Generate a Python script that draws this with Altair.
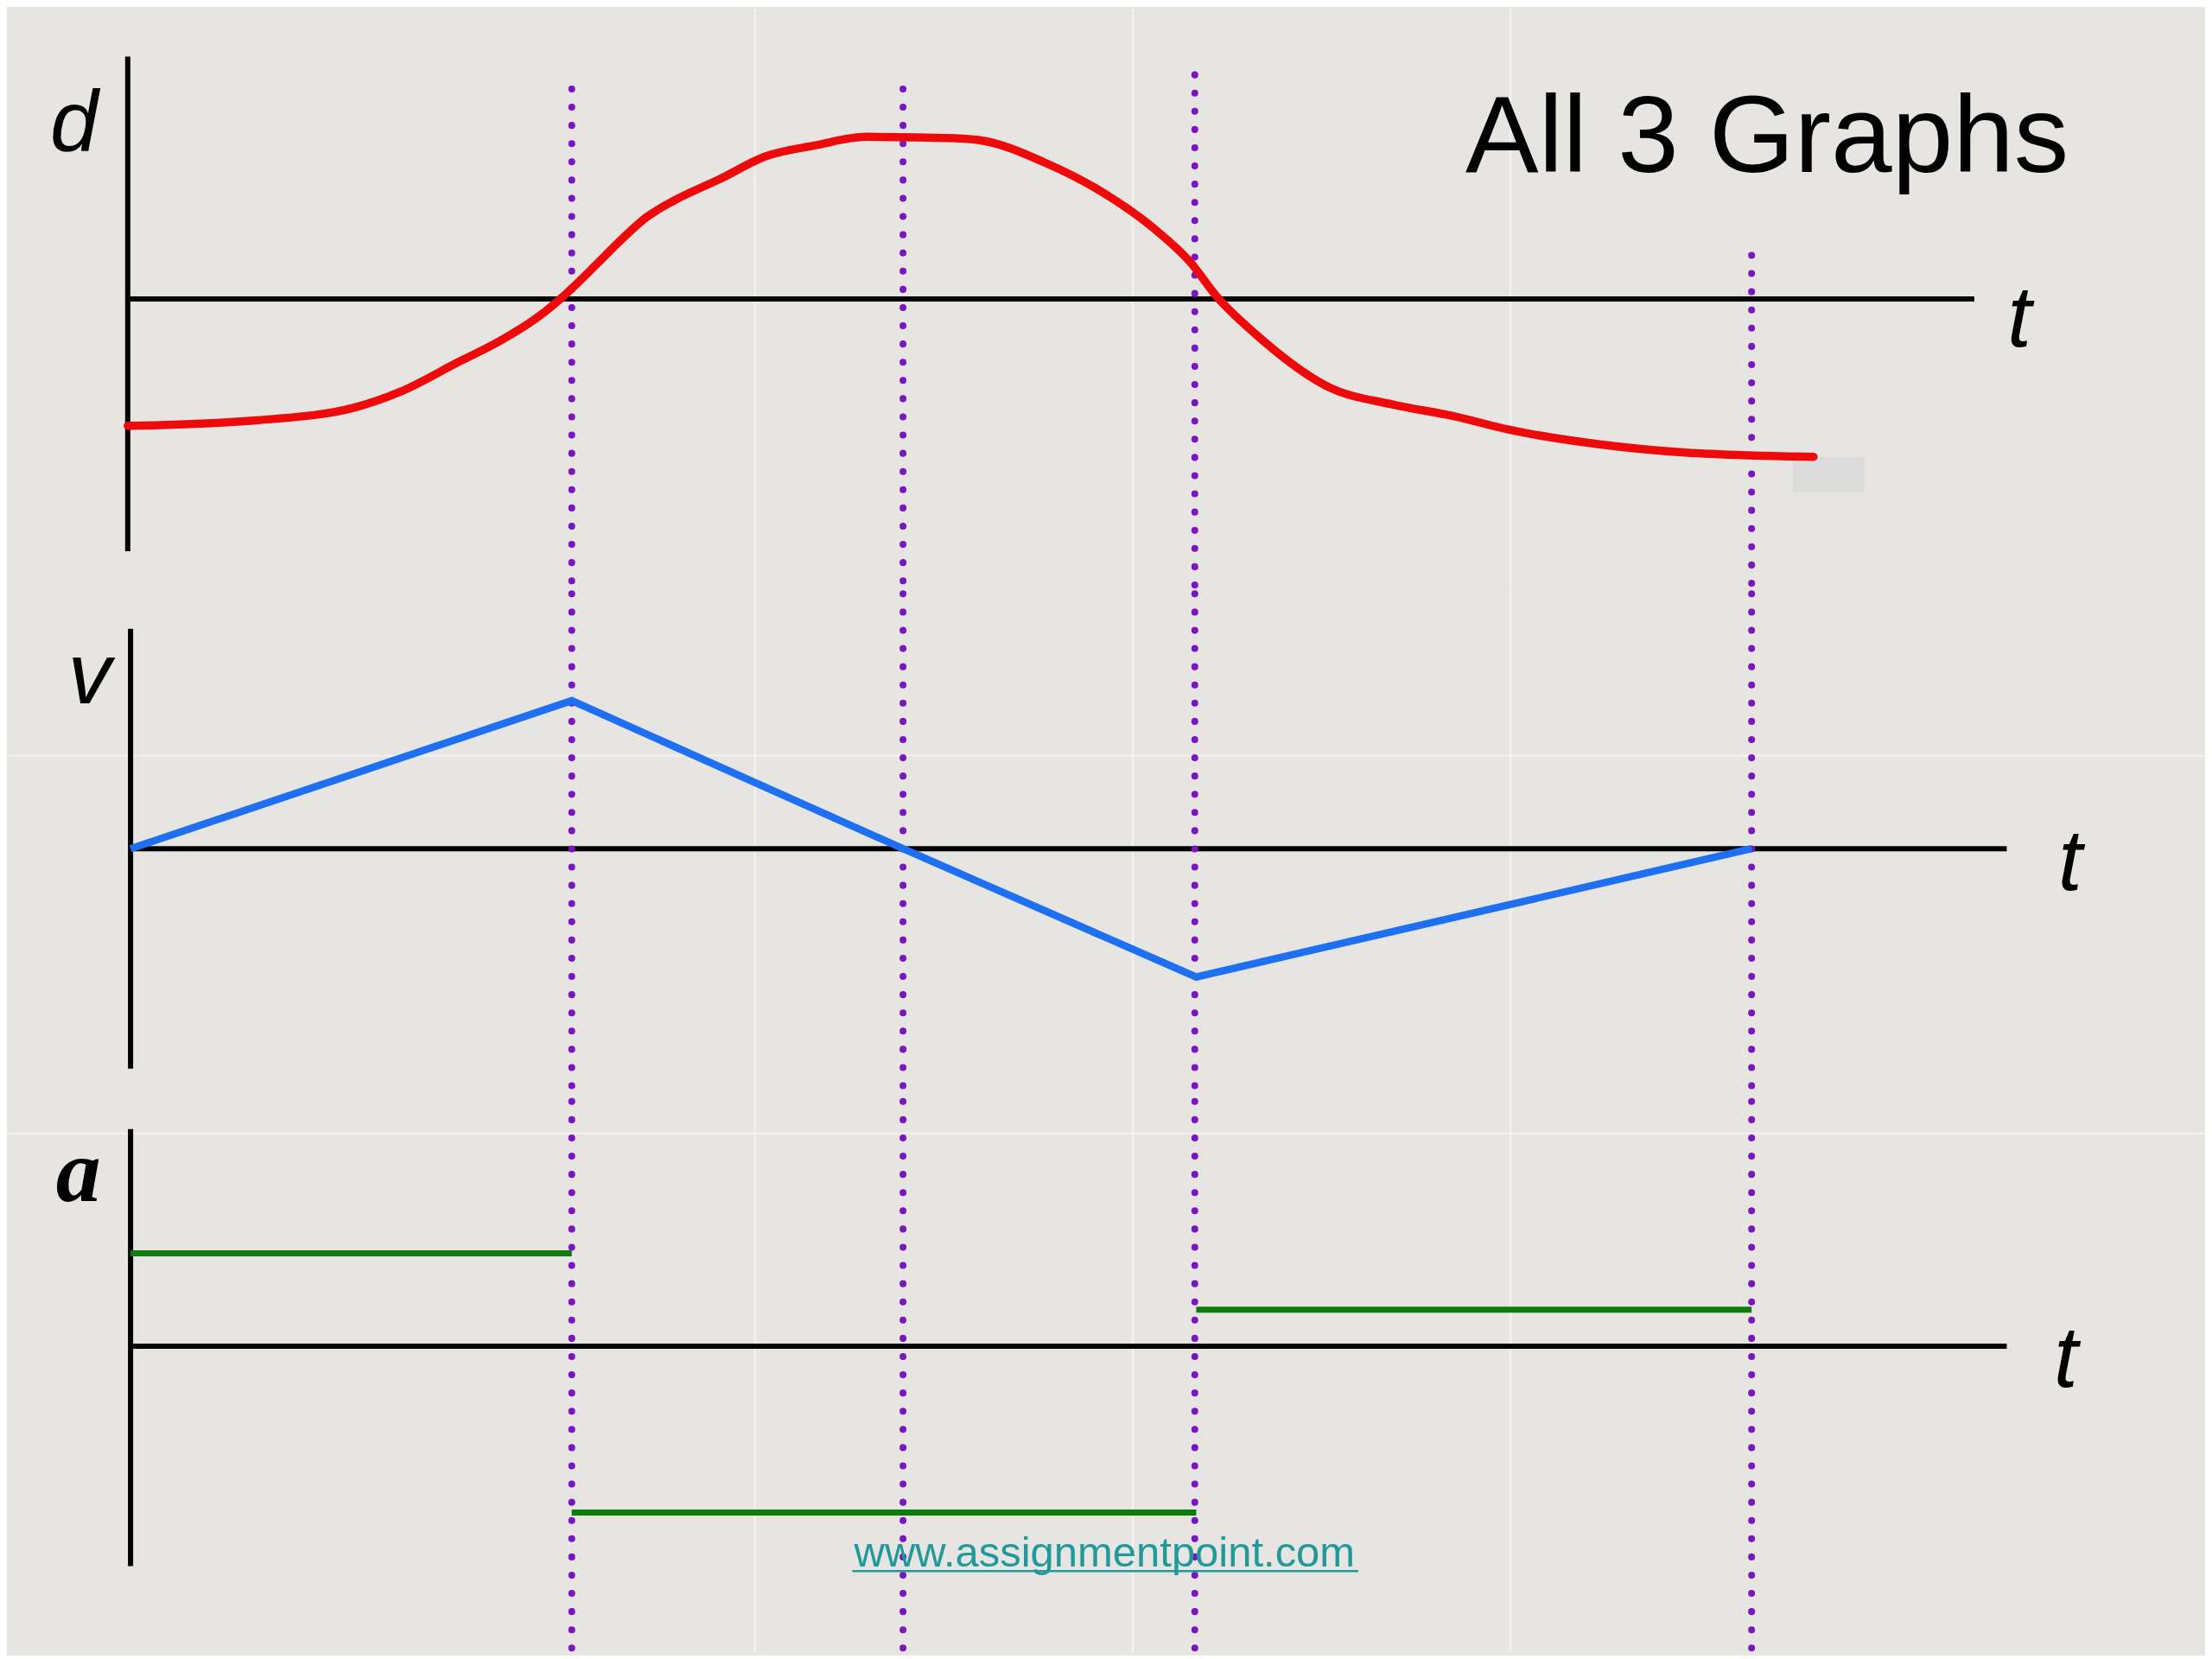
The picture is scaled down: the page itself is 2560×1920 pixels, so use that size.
import altair as alt
import pandas as pd

# ---------------- data (picture units: t from the vertical axis, value from each zero line)
# red displacement curve d(t)
d_t = [0, 93, 161, 193, 236, 260, 296, 308, 333, 348, 368, 388, 420, 452, 488, 524, 587, 608,
       650, 691, 728, 753, 774, 799, 853, 898, 940, 981, 1043, 1105, 1151, 1196]
d_val = [-90, -86, -77, -66, -44, -32, -9, 1, 25, 40, 58, 70, 85, 101, 109, 115, 114, 112,
         97, 76, 50, 27, 0, -24, -63, -75, -83, -93, -103, -109, -111, -112]

# blue velocity polyline v(t)
v_t = [2, 315, 550, 758, 1152]
v_val = [0, 105, 0, -91, 0]

# green acceleration segments a(t)
a_t_start = [2, 315, 758]
a_t_end = [315, 758, 1152]
a_val = [66, -118, 26]

# purple dotted time markers
marker_t = [315, 550, 757, 1152]
marker_top_d = [149, 149, 159, 31]
marker_bottom_a = -216

# background tile seams
seam_t = [445, 713, 981]

# labels
title_text = "All 3 Graphs"
url_text = "www.assignmentpoint.com"

# ---------------- styling
BG = "#e7e5e2"
PURPLE = "#7a16c0"
RED = "#ee0a0a"
BLUE = "#1f6ff2"
GREEN = "#0c7c0c"
TEAL = "#20999a"

W = 2544
H_D, H_V, H_A = 678, 588, 638
X_DOM = [-85.1, 1473.1]
D_DOM = [-209.17, 206.1]
V_DOM = [-179.32, 180.83]
A_DOM = [-217.1, 173.68]

XS = alt.Scale(domain=X_DOM, nice=False, zero=False)


def X(f="t"):
    return alt.X(f"{f}:Q", scale=XS, axis=None)


def Y(f, dom):
    return alt.Y(f"{f}:Q", scale=alt.Scale(domain=dom, nice=False, zero=False), axis=None)


def vrules(df, dom, **kw):
    return alt.Chart(df).mark_rule(**kw).encode(x=X("t"), y=Y("y", dom), y2=alt.Y2("y2:Q"))


def hrules(df, dom, **kw):
    return alt.Chart(df).mark_rule(**kw).encode(x=X("t"), x2=alt.X2("t2:Q"), y=Y("y", dom))


def label(text, t, y, dom, **kw):
    df = pd.DataFrame({"t": [t], "y": [y], "txt": [text]})
    return alt.Chart(df).mark_text(**kw).encode(x=X("t"), y=Y("y", dom), text="txt:N")


dot_style = dict(color=PURPLE, strokeWidth=8, strokeDash=[0.1, 21], strokeCap="round")
seam_style = dict(color="#ffffff", strokeWidth=2, opacity=0.55)
axis_style = dict(color="#000000", strokeWidth=6)
italic_sans = dict(font="Liberation Sans", fontStyle="italic", fontSize=100, color="#000000",
                   align="center", baseline="alphabetic")

# ---------------- displacement panel
seams_d = vrules(pd.DataFrame({"t": seam_t, "y": [D_DOM[0]] * 3, "y2": [D_DOM[1]] * 3}), D_DOM, **seam_style)
grey_box = alt.Chart(pd.DataFrame({"t": [1181], "t2": [1232], "y": [-112], "y2": [-137]})).mark_rect(
    color="#dcdcdc").encode(x=X("t"), x2=alt.X2("t2:Q"), y=Y("y", D_DOM), y2=alt.Y2("y2:Q"))
axis_dv = vrules(pd.DataFrame({"t": [0], "y": [-179], "y2": [172]}), D_DOM, **axis_style)
axis_dh = hrules(pd.DataFrame({"t": [0], "t2": [1310], "y": [0]}), D_DOM, **axis_style)
dots_d = vrules(pd.DataFrame({"t": marker_t, "y": marker_top_d, "y2": [D_DOM[0]] * 4}), D_DOM, **dot_style)
red = alt.Chart(pd.DataFrame({"t": d_t, "y": d_val})).mark_line(
    color=RED, strokeWidth=9.5, interpolate="monotone", strokeCap="round").encode(x=X("t"), y=Y("y", D_DOM))
lab_d = label("d", -38, 105, D_DOM, **italic_sans)
lab_td = label("t", 1342, -34, D_DOM, **italic_sans)
title = label(title_text, 1377, 90.3, D_DOM, font="Liberation Sans", fontSize=127, color="#000000",
              align="right", baseline="alphabetic")
panel_d = alt.layer(seams_d, grey_box, axis_dv, axis_dh, dots_d, red, lab_d, lab_td, title).properties(
    width=W, height=H_D)

# ---------------- velocity panel
seams_v = vrules(pd.DataFrame({"t": seam_t, "y": [V_DOM[0]] * 3, "y2": [V_DOM[1]] * 3}), V_DOM, **seam_style)
seam_vh = hrules(pd.DataFrame({"t": [X_DOM[0]], "t2": [X_DOM[1]], "y": [66]}), V_DOM, **seam_style)
axis_vv = vrules(pd.DataFrame({"t": [2], "y": [-156], "y2": [156]}), V_DOM, **axis_style)
axis_vh = hrules(pd.DataFrame({"t": [2], "t2": [1333], "y": [0]}), V_DOM, **axis_style)
dots_v = vrules(pd.DataFrame({"t": marker_t, "y": [V_DOM[1]] * 4, "y2": [V_DOM[0]] * 4}), V_DOM, **dot_style)
blue = alt.Chart(pd.DataFrame({"t": v_t, "y": v_val})).mark_line(
    color=BLUE, strokeWidth=8.5).encode(x=X("t"), y=Y("y", V_DOM))
lab_v = label("v", -27, 103, V_DOM, **italic_sans)
lab_tv = label("t", 1378, -29, V_DOM, **italic_sans)
panel_v = alt.layer(seams_v, seam_vh, axis_vv, axis_vh, dots_v, blue, lab_v, lab_tv).properties(
    width=W, height=H_V)

# ---------------- acceleration panel
seams_a = vrules(pd.DataFrame({"t": seam_t, "y": [A_DOM[0]] * 3, "y2": [A_DOM[1]] * 3}), A_DOM, **seam_style)
seam_ah = hrules(pd.DataFrame({"t": [X_DOM[0]], "t2": [X_DOM[1]], "y": [151]}), A_DOM, **seam_style)
axis_av = vrules(pd.DataFrame({"t": [2], "y": [-156], "y2": [154]}), A_DOM, **axis_style)
axis_ah = hrules(pd.DataFrame({"t": [2], "t2": [1333], "y": [0]}), A_DOM, **axis_style)
dots_a = vrules(pd.DataFrame({"t": marker_t, "y": [A_DOM[1]] * 4, "y2": [marker_bottom_a] * 4}), A_DOM, **dot_style)
green = hrules(pd.DataFrame({"t": a_t_start, "t2": a_t_end, "y": a_val}), A_DOM, color=GREEN, strokeWidth=7)
lab_a = label("a", -35, 103, A_DOM, font="Liberation Serif", fontStyle="italic", fontWeight="bold",
              fontSize=104, color="#000000", align="center", baseline="alphabetic")
lab_ta = label("t", 1375, -29, A_DOM, **italic_sans)
url = label(url_text, 693, -156.4, A_DOM, font="Liberation Sans", fontSize=49, color=TEAL,
            align="center", baseline="alphabetic")
url_line = hrules(pd.DataFrame({"t": [514], "t2": [873], "y": [-159.5]}), A_DOM, color=TEAL, strokeWidth=2.5)
panel_a = alt.layer(seams_a, seam_ah, axis_av, axis_ah, dots_a, green, lab_a, lab_ta, url, url_line).properties(
    width=W, height=H_A)

chart = alt.vconcat(panel_d, panel_v, panel_a, spacing=0, bounds="flush").resolve_scale(
    x="independent", y="independent").properties(padding=0, background=BG).configure_view(stroke=None)

chart.save("out.html", embed_options={"renderer": "svg", "actions": False})
